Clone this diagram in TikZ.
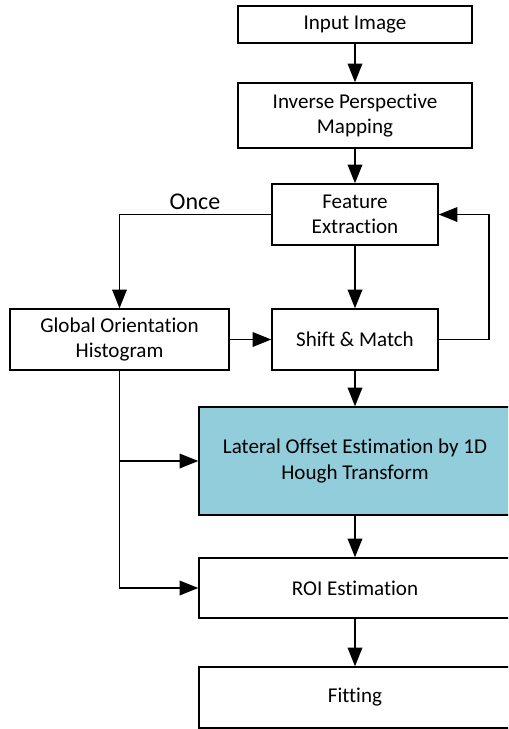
\documentclass[tikz,border=0pt]{standalone}
\usepackage{fontspec}
\setmainfont{Carlito}[RawFeature=-liga]
\usetikzlibrary{arrows.meta,positioning}
\definecolor{houghblue}{RGB}{146,205,220}

\begin{document}
\begin{tikzpicture}[x=0.75pt,y=-0.75pt,
    block/.style={draw, line width=1.1pt, align=center, inner sep=0pt,
      font=\fontsize{15.8}{19}\selectfont},
    arr/.style={-{Triangle[length=14pt,width=11pt]}, line width=1pt}]
  \clip (0,0) rectangle (508,729);
  % main chain
  \node[block, minimum width=175.5pt, minimum height=27.75pt] (in) at (355,24.5) {Input Image};
  \node[block, minimum width=175.5pt, minimum height=48.75pt] (ipm) at (355,115.5) {Inverse Perspective\\Mapping};
  \node[block, minimum width=124.5pt, minimum height=45.75pt] (fe) at (355,214.5) {Feature\\Extraction};
  \node[block, minimum width=164.25pt, minimum height=45.75pt] (goh) at (119.5,339.5) {Global Orientation\\Histogram};
  \node[block, minimum width=124.5pt, minimum height=45.75pt] (sm) at (355,339.5) {Shift \& Match};
  \node[block, fill=houghblue, minimum width=234pt, minimum height=81pt] (lat) at (355,461) {Lateral Offset Estimation by 1D\\Hough Transform};
  \node[block, minimum width=234pt, minimum height=45pt] (roi) at (355,588) {ROI Estimation};
  \node[block, minimum width=234pt, minimum height=45.75pt] (fit) at (355,697.5) {Fitting};
  \node[font=\fontsize{18}{21}\selectfont] (once) at (195,202) {Once};
  \coordinate (loop) at (489,339.5);
  \coordinate (br) at (goh.south |- lat.west);

  \draw[arr] (in) -- (ipm);
  \draw[arr] (ipm) -- (fe);
  \draw[arr] (fe) -- (sm);
  \draw[arr] (fe.west) -| (goh.north);
  \draw[arr] (goh) -- (sm);
  \draw[arr] (sm.east) -- (loop) |- (fe.east);
  \draw[arr] (sm) -- (lat);
  \draw[arr] (br) -- (lat.west);
  \draw[arr] (goh.south) |- (roi.west);
  \draw[arr] (lat) -- (roi);
  \draw[arr] (roi) -- (fit);
\end{tikzpicture}
\end{document}
